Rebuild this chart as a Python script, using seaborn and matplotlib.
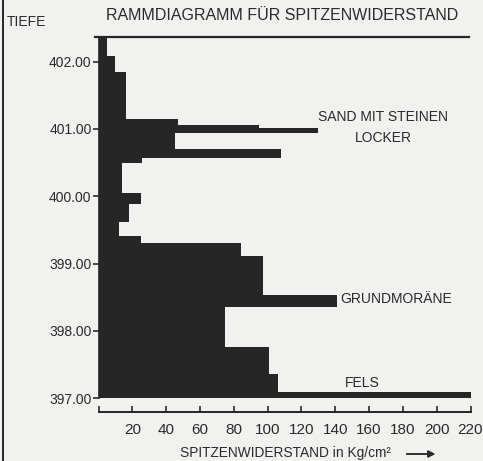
import matplotlib
matplotlib.use("Agg")
import matplotlib.pyplot as plt
from matplotlib.lines import Line2D
import numpy as np
import pandas as pd
import seaborn as sns

# Depth boundaries of each sounding interval (m above datum), top to bottom
depth_top = [402.36, 402.08, 401.84, 401.15, 401.06, 401.02, 400.94, 400.70,
             400.57, 400.49, 400.05, 399.89, 399.62, 399.41, 399.30, 399.11,
             398.54, 398.36, 397.76, 397.36, 397.10]
depth_bottom = depth_top[1:] + [397.00]
# Tip resistance per interval (kg/cm²)
resistance = [5, 10, 16, 47, 95, 130, 45, 108, 26, 14, 25, 18, 12, 25, 84,
              97, 141, 75, 101, 106, 220]

depth_ticks = [397.0, 398.0, 399.0, 400.0, 401.0, 402.0]
depth_labels = ["397.00", "398.00", "399.00", "400.00", "401.00", "402.00"]
force_ticks = [0, 20, 40, 60, 80, 100, 120, 140, 160, 180, 200, 220]
force_labels = ["", "20", "40", "60", "80", "100", "120", "140", "160", "180", "200", "220"]

layers = [("SAND MIT STEINEN", 168.5, 401.18, "center"),
          ("LOCKER", 168.5, 400.87, "center"),
          ("GRUNDMORÄNE", 143.0, 398.47, "left"),
          ("FELS", 145.5, 397.23, "left")]

paper = "#f1f1ef"
ink = "#262626"
text_col = "#2b2b2b"

sns.set_theme(style="white")
plt.rcParams["font.family"] = ["Liberation Sans", "DejaVu Sans"]
plt.rcParams["text.color"] = text_col
plt.rcParams["axes.labelcolor"] = text_col
plt.rcParams["xtick.color"] = text_col
plt.rcParams["ytick.color"] = text_col

df = pd.DataFrame({
    "mid": [(a + b) / 2 for a, b in zip(depth_top, depth_bottom)],
    "resistance": resistance,
})
edges = sorted(set(depth_top + depth_bottom))

fig = plt.figure(figsize=(4.83, 4.61), dpi=100, facecolor=paper)
ax = fig.add_axes([98.5 / 483, 62.7 / 461, 372.0 / 483, 361.0 / 461])
ax.set_facecolor(paper)

sns.histplot(data=df, y="mid", weights="resistance", bins=edges,
             element="step", fill=True, color=ink, alpha=1.0,
             linewidth=0, ax=ax)

ax.set_xlim(0, 220)
ax.set_ylim(397.0, 402.36)

ax.set_yticks(depth_ticks)
ax.set_yticklabels(depth_labels, fontsize=10)
ax.set_xticks(force_ticks)
ax.set_xticklabels(force_labels, fontsize=10)
ax.set_xlabel("")
ax.set_ylabel("")

for side in ["top", "left", "bottom"]:
    ax.spines[side].set_color(ink)
ax.spines["right"].set_visible(False)
ax.spines["top"].set_linewidth(1.6)
ax.spines["top"].set_bounds(-2, 219)
ax.spines["left"].set_linewidth(1.2)
ax.spines["bottom"].set_linewidth(1.4)
ax.spines["bottom"].set_position(("outward", 10))
ax.spines["bottom"].set_bounds(0, 220)

ax.tick_params(axis="y", direction="out", length=4, width=1.2, pad=1,
               left=True, colors=text_col)
ax.tick_params(axis="x", direction="in", length=4.5, width=1.2, pad=8,
               bottom=True, colors=text_col)

for label, x, y, ha in layers:
    ax.text(x, y, label, ha=ha, va="center", fontsize=10, color=text_col)

fig.text(282.5 / 483, 1 - 15.5 / 461, "RAMMDIAGRAMM FÜR SPITZENWIDERSTAND",
         ha="center", va="center", fontsize=11.5, color=text_col)
fig.text(7 / 483, 1 - 22.5 / 461, "TIEFE", ha="left", va="center",
         fontsize=10, color=text_col)
fig.text(180 / 483, 1 - 453 / 461, "SPITZENWIDERSTAND in Kg/cm²",
         ha="left", va="center", fontsize=9.9, color=text_col)
fig.add_artist(plt.annotate("", xy=(438 / 483, 1 - 454 / 461),
                            xytext=(404 / 483, 1 - 454 / 461),
                            xycoords="figure fraction",
                            textcoords="figure fraction",
                            arrowprops=dict(arrowstyle="-|>", color=text_col,
                                            lw=1.1, mutation_scale=10)))

# Edge of the sheet along the left margin
fig.add_artist(Line2D([2.5 / 483, 2.5 / 483], [0, 1], color=ink, lw=1.4,
                      transform=fig.transFigure))

fig.savefig("out.png", dpi=100, facecolor=paper)
